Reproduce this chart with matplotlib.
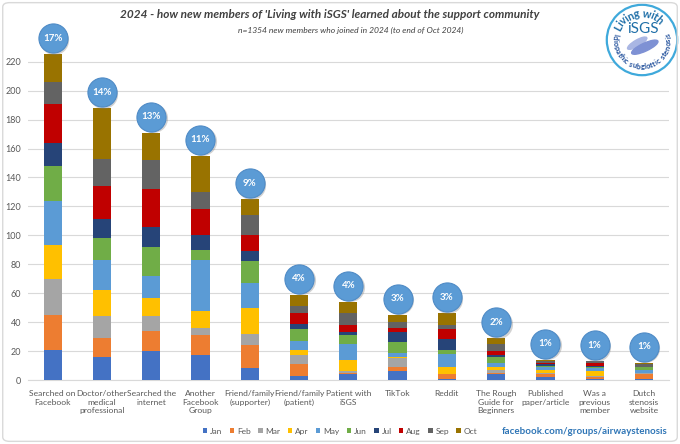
import numpy as np
import matplotlib
matplotlib.use("Agg")
import matplotlib.pyplot as plt
from matplotlib.patches import Circle, Ellipse, FancyBboxPatch
from matplotlib.transforms import offset_copy
from matplotlib.font_manager import FontProperties
from matplotlib.textpath import text_to_path

plt.rcParams['font.family'] = ['Lato', 'DejaVu Sans']

categories = ["Searched on\nFacebook", "Doctor/other\nmedical\nprofessional",
              "Searched the\ninternet", "Another\nFacebook\nGroup",
              "Friend/family\n(supporter)", "Friend/family\n(patient)",
              "Patient with\niSGS", "TikTok", "Reddit",
              "The Rough\nGuide for\nBeginners", "Published\npaper/article",
              "Was a\nprevious\nmember", "Dutch\nstenosis\nwebsite"]

months = ["Jan", "Feb", "Mar", "Apr", "May", "Jun", "Jul", "Aug", "Sep", "Oct"]

# counts per month for each category
jan = [21, 16, 20, 17, 8, 3, 4, 6, 1, 4, 2, 1, 1]
feb = [24, 13, 14, 14, 16, 8, 1, 3, 3, 1, 2, 1, 3]
mar = [25, 15, 10, 5, 8, 6, 1, 6, 0, 2, 1, 1, 1]
apr = [23, 18, 13, 12, 18, 4, 8, 1, 5, 2, 2, 3, 0]
may = [31, 21, 15, 35, 17, 6, 11, 3, 9, 3, 2, 2, 2]
jun = [24, 15, 20, 7, 15, 8, 6, 7, 3, 4, 1, 1, 2]
jul = [16, 13, 14, 10, 7, 4, 2, 7, 7, 1, 1, 1, 0]
aug = [27, 23, 26, 18, 11, 7, 5, 3, 7, 3, 1, 2, 0]
sep = [15, 19, 20, 12, 14, 5, 8, 4, 3, 5, 1, 1, 2]
oct_ = [19, 35, 19, 25, 11, 8, 8, 5, 8, 4, 1, 0, 1]

n_total = 1354

colors = ["#4472C4", "#ED7D31", "#A5A5A5", "#FFC000", "#5B9BD5",
          "#70AD47", "#264478", "#C00000", "#636363", "#997300"]

series = [jan, feb, mar, apr, may, jun, jul, aug, sep, oct_]
totals = np.sum(np.array(series), axis=0)

fig = plt.figure(figsize=(6.8, 4.44), dpi=100)
ax = fig.add_axes([28/680, 64/444, 640.6/680, 340/444])

x = np.arange(len(categories))
bottom = np.zeros(len(categories))
for vals, col, m in zip(series, colors, months):
    ax.bar(x, vals, bottom=bottom, width=0.37, color=col, label=m, zorder=3)
    bottom += np.array(vals)

ax.set_xlim(-0.5, len(categories) - 0.5)
ax.set_ylim(0, 235)
ax.set_yticks(np.arange(0, 221, 20))
ax.yaxis.grid(True, color="#D9D9D9", linewidth=0.8, zorder=0)
ax.set_axisbelow(True)
for s in ["top", "right", "left"]:
    ax.spines[s].set_visible(False)
ax.spines["bottom"].set_color("#D9D9D9")
ax.tick_params(axis="both", length=0, colors="#595959", labelsize=6.5)
ax.tick_params(axis="y", pad=5)
ax.tick_params(axis="x", pad=7)
ax.set_xticks(x)
ax.set_xticklabels(categories, fontsize=6.1, linespacing=1.3)

# percentage bubbles above the bars
trans_shadow = offset_copy(ax.transData, fig=fig, x=1.5, y=14.5, units="dots")
trans_bub = offset_copy(ax.transData, fig=fig, x=0, y=16, units="dots")
ax.scatter(x, totals, s=440, color="#7F7F7F", alpha=0.35, linewidths=0,
           transform=trans_shadow, zorder=4, clip_on=False)
ax.scatter(x, totals, s=440, color="#5B9BD5", edgecolors="#4F8BC6",
           linewidths=0.8, transform=trans_bub, zorder=5, clip_on=False)
for xi, t in zip(x, totals):
    ax.text(xi, t, "%d%%" % round(100 * t / n_total), transform=trans_bub,
            ha="center", va="center", color="white", fontsize=7,
            fontweight="bold", zorder=6)

# titles
fig.text(330/680, 1 - 14/444,
         "2024 - how new members of 'Living with iSGS' learned about the support community",
         ha="center", va="center", fontsize=8.5, fontweight="bold", style="italic",
         color="#404040")
fig.text(351/680, 1 - 30/444,
         "n=1354 new members who joined in 2024 (to end of Oct 2024)",
         ha="center", va="center", fontsize=6.1, style="italic", color="#404040")

# legend
handles, labels = ax.get_legend_handles_labels()
fig.legend(handles, labels, loc="center", bbox_to_anchor=(340/680, 13/444),
           ncol=10, frameon=False, fontsize=6, handlelength=0.55,
           handleheight=0.55, handletextpad=0.35, columnspacing=0.85,
           labelcolor="#595959")

fig.text(667/680, 13/444, "facebook.com/groups/airwaystenosis", ha="right",
         va="center", fontsize=7, fontweight="bold", color="#2E75B6")

# outer border
fig.patches.append(FancyBboxPatch((0.004, 0.006), 0.992, 0.988,
                                  boxstyle="round,pad=0,rounding_size=0.01",
                                  transform=fig.transFigure, fill=False,
                                  edgecolor="#D9D9D9", linewidth=1))

# logo
lax = fig.add_axes([(642 - 40)/680, (444 - 40 - 40)/444, 80/680, 80/444])
lax.set_xlim(-1, 1)
lax.set_ylim(-1, 1)
lax.set_aspect("equal")
lax.axis("off")
lax.add_patch(Circle((0, 0), 0.88, facecolor="white", edgecolor="#3FA9DB",
                     linewidth=1.6))
lax.add_patch(Ellipse((-0.12, -0.08), 0.55, 0.16, angle=30, color="#A9B6E3"))
lax.add_patch(Ellipse((0.07, -0.18), 0.72, 0.2, angle=25, color="#7E91D4"))
lax.text(0.03, 0.27, "iSGS", ha="center", va="center", fontsize=11,
         color="#1F6FA8")

px_per_unit = 40.0


def arc_text(s, radius, center_deg, fs, color, top=True, weight="normal"):
    fp = FontProperties(family=["Lato", "DejaVu Sans"], size=fs, weight=weight)
    widths = []
    for ch in s:
        w, h, d = text_to_path.get_text_width_height_descent(ch, fp, ismath=False)
        if ch == " ":
            w = fs * 0.3
        widths.append(w * 100 / 72 / px_per_unit / radius)
    total = sum(widths)
    ang = np.radians(center_deg) + (total / 2 if top else -total / 2)
    for ch, w in zip(s, widths):
        a = ang - w / 2 if top else ang + w / 2
        rot = np.degrees(a) - 90 if top else np.degrees(a) + 90
        lax.text(radius*np.cos(a), radius*np.sin(a), ch, ha="center",
                 va="center", rotation=rot, fontsize=fs, color=color,
                 fontweight=weight, rotation_mode="anchor")
        ang = ang - w if top else ang + w


arc_text("Living with", 0.66, 100, 7.8, "#1F6FA8", top=True, weight="bold")
arc_text("Idiopathic subglottic stenosis", 0.67, 270, 5.4, "#1F4E9A",
         top=False, weight="bold")

fig.savefig("out.png", dpi=100)
